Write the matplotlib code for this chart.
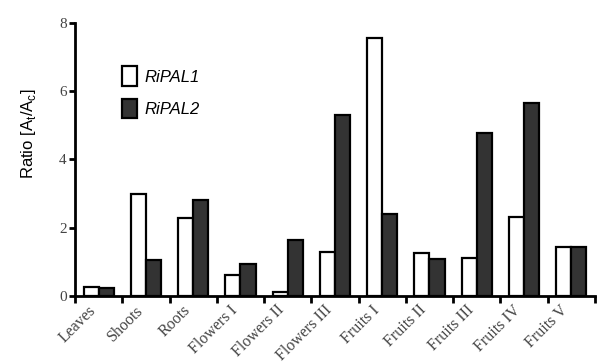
import numpy as np
import matplotlib
matplotlib.use('Agg')
import matplotlib.pyplot as plt

# values
tissues = ['Leaves', 'Shoots', 'Roots', 'Flowers I', 'Flowers II', 'Flowers III',
           'Fruits I', 'Fruits II', 'Fruits III', 'Fruits IV', 'Fruits V']
ripal1 = [0.27, 3.0, 2.27, 0.61, 0.13, 1.30, 7.56, 1.27, 1.12, 2.32, 1.44]
ripal2 = [0.23, 1.05, 2.81, 0.94, 1.64, 5.29, 2.39, 1.09, 4.76, 5.65, 1.44]
yticks = [0, 2, 4, 6, 8]

serif = 'Liberation Serif'
sans = 'Liberation Sans'

fig = plt.figure(figsize=(5.99, 3.62), dpi=100)
ax = fig.add_axes([0.1252, 0.1823, 0.868, 0.755])

x = np.arange(len(tissues))
w = 0.32
ax.bar(x - w / 2, ripal1, w, facecolor='white', edgecolor='black', linewidth=1.6,
       label='RiPAL1', zorder=3)
ax.bar(x + w / 2, ripal2, w, facecolor='#333333', edgecolor='black', linewidth=1.6,
       label='RiPAL2', zorder=3)

ax.set_xlim(-0.5, len(tissues) - 0.5)
ax.set_ylim(0, 8)

# axes styling
for s in ['top', 'right']:
    ax.spines[s].set_visible(False)
for s in ['left', 'bottom']:
    ax.spines[s].set_linewidth(2)
ax.spines['bottom'].set_zorder(4)

ax.set_yticks(yticks)
ax.set_yticklabels([str(v) for v in yticks], fontfamily=serif, fontsize=11, color='#444444')
ax.tick_params(axis='y', direction='out', length=4, width=2, pad=2)

# ticks at group boundaries, labels under group centres
ax.set_xticks(np.arange(len(tissues) + 1) - 0.5)
ax.set_xticklabels([])
ax.tick_params(axis='x', direction='out', length=5, width=2)
for i, name in enumerate(tissues):
    ax.annotate(name, xy=(i, 0), xycoords=('data', 'axes fraction'),
                xytext=(-8, -4.5), textcoords='offset points',
                rotation=45, ha='right', va='top', rotation_mode='anchor',
                fontfamily=serif, fontsize=11.5, color='#444444')

ax.set_ylabel(r'Ratio [A$_\mathregular{t}$/A$_\mathregular{c}$]', fontfamily=sans,
              fontsize=12)
ax.yaxis.set_label_coords(-0.072, 0.593)

leg = ax.legend(loc='upper left', bbox_to_anchor=(0.09, 0.84), frameon=False,
                borderpad=0, borderaxespad=0, handlelength=0.9, handleheight=1.4,
                labelspacing=0.8, handletextpad=0.45,
                prop={'family': sans, 'style': 'italic', 'size': 12})

fig.savefig('out.png', dpi=100)
